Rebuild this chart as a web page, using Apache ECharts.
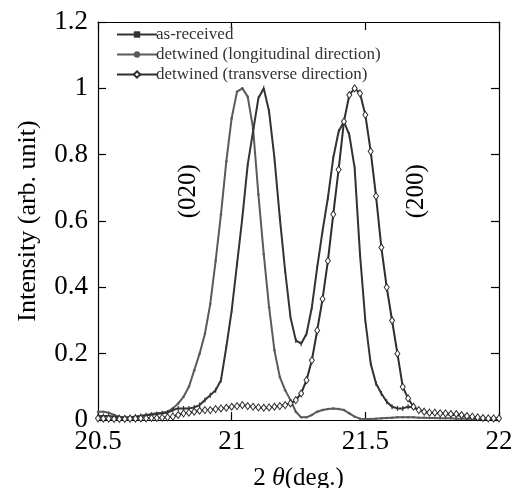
<!DOCTYPE html>
<html>
<head>
<meta charset="utf-8">
<script src="https://cdn.jsdelivr.net/npm/echarts@6/dist/echarts.min.js"></script>
<style>html,body{margin:0;padding:0;background:#fff}#c{width:512px;height:488px}</style>
</head>
<body>
<div id="c"></div>
<script>
var twoTheta = [20.50,20.52,20.54,20.56,20.58,20.60,20.62,20.64,20.66,20.68,20.70,20.72,20.74,20.76,20.78,20.80,20.82,20.84,20.86,20.88,20.90,20.92,20.94,20.96,20.98,21.00,21.02,21.04,21.06,21.08,21.10,21.12,21.14,21.16,21.18,21.20,21.22,21.24,21.26,21.28,21.30,21.32,21.34,21.36,21.38,21.40,21.42,21.44,21.46,21.48,21.50,21.52,21.54,21.56,21.58,21.60,21.62,21.64,21.66,21.68,21.70,21.72,21.74,21.76,21.78,21.80,21.82,21.84,21.86,21.88,21.90,21.92,21.94,21.96,21.98,22.00];
var asReceived = [0.012,0.012,0.012,0.010,0.008,0.007,0.008,0.010,0.012,0.014,0.016,0.018,0.020,0.022,0.030,0.035,0.035,0.035,0.038,0.045,0.060,0.075,0.090,0.120,0.220,0.330,0.470,0.610,0.770,0.870,0.970,1.000,0.930,0.790,0.610,0.450,0.310,0.240,0.230,0.260,0.340,0.460,0.570,0.670,0.790,0.870,0.900,0.860,0.760,0.500,0.300,0.170,0.110,0.080,0.055,0.040,0.035,0.035,0.040,0.038,0.030,0.025,0.022,0.020,0.020,0.018,0.015,0.015,0.012,0.010,0.008,0.006,0.005,0.005,0.004,0.003];
var longitudinal = [0.025,0.025,0.022,0.015,0.010,0.008,0.008,0.010,0.012,0.015,0.018,0.020,0.022,0.025,0.035,0.050,0.070,0.100,0.150,0.200,0.260,0.350,0.480,0.620,0.780,0.910,0.990,1.000,0.975,0.880,0.680,0.500,0.340,0.210,0.130,0.090,0.060,0.025,0.008,0.008,0.015,0.025,0.030,0.033,0.035,0.033,0.030,0.020,0.010,0.004,0.003,0.003,0.004,0.005,0.006,0.007,0.008,0.008,0.008,0.008,0.007,0.007,0.006,0.006,0.005,0.005,0.005,0.004,0.004,0.004,0.003,0.003,0.003,0.003,0.003,0.003];
var transverse = [0.005,0.004,0.004,0.003,0.003,0.003,0.004,0.004,0.005,0.005,0.006,0.006,0.007,0.008,0.010,0.015,0.020,0.022,0.025,0.028,0.030,0.030,0.033,0.035,0.037,0.040,0.042,0.045,0.042,0.040,0.038,0.037,0.038,0.040,0.042,0.045,0.050,0.060,0.080,0.120,0.180,0.270,0.365,0.480,0.620,0.755,0.900,0.980,1.000,0.985,0.920,0.810,0.675,0.520,0.400,0.300,0.200,0.100,0.065,0.040,0.030,0.025,0.022,0.022,0.020,0.020,0.018,0.018,0.015,0.012,0.010,0.008,0.006,0.005,0.005,0.005];
var xTicks = [20.5, 21, 21.5, 22];
var yTicks = [0, 0.2, 0.4, 0.6, 0.8, 1, 1.2];
var seriesNames = ['as-received', 'detwined (longitudinal direction)', 'detwined (transverse direction)'];
var peakLabels = [{text: '(020)', x: 20.84, y: 0.69}, {text: '(200)', x: 21.69, y: 0.69}];

function pairs(ys) { return twoTheta.map(function (x, i) { return [x, ys[i]]; }); }

var chart = echarts.init(document.getElementById('c'), null, {renderer: 'canvas'});
var font = 'Liberation Serif';
var axisCommon = {
  min: 20.5, max: 22, interval: 0.5,
  axisLine: {show: true, onZero: false, lineStyle: {color: '#000', width: 1.2}},
  axisTick: {show: true, inside: true, length: 8, lineStyle: {color: '#000', width: 1.2}},
  splitLine: {show: false}
};
var yCommon = {
  min: 0, max: 1.2, interval: 0.2,
  axisLine: {show: true, onZero: false, lineStyle: {color: '#000', width: 1.2}},
  axisTick: {show: true, inside: true, length: 8, lineStyle: {color: '#000', width: 1.2}},
  splitLine: {show: false}
};
var option = {
  animation: false,
  backgroundColor: '#fff',
  grid: {left: 98, right: 13, top: 22, bottom: 68, containLabel: false, outerBoundsMode: 'none'},
  legend: {
    orient: 'vertical', left: 111, top: 21, itemWidth: 40, itemHeight: 8, itemGap: 3,
    textStyle: {fontFamily: font, fontSize: 17, color: '#333', padding: [0, 0, 0, -6]},
    data: seriesNames
  },
  xAxis: [
    Object.assign({type: 'value', position: 'bottom',
      name: '{n|2 }{t|θ}{n|(deg.)}', nameLocation: 'middle', nameGap: 45,
      nameTextStyle: {rich: {n: {fontFamily: font, fontSize: 25, color: '#000'}, t: {fontFamily: font, fontSize: 26, fontStyle: 'italic', color: '#000'}}},
      axisLabel: {fontFamily: font, fontSize: 27, color: '#000', margin: 8}}, axisCommon),
    Object.assign({type: 'value', position: 'top', axisLabel: {show: false}}, axisCommon)
  ],
  yAxis: [
    Object.assign({type: 'value', position: 'left',
      name: 'Intensity (arb. unit)', nameLocation: 'middle', nameGap: 57,
      nameTextStyle: {fontFamily: font, fontSize: 26, color: '#000'},
      axisLabel: {fontFamily: font, fontSize: 27, color: '#000', margin: 10}}, yCommon),
    Object.assign({type: 'value', position: 'right', axisLabel: {show: false}}, yCommon)
  ],
  series: [
    {
      name: seriesNames[0], type: 'line', data: pairs(asReceived),
      lineStyle: {color: '#333', width: 2}, itemStyle: {color: '#333'},
      symbol: 'rect', symbolSize: [1.2, 5], showAllSymbol: true, z: 3
    },
    {
      name: seriesNames[1], type: 'line', data: pairs(longitudinal),
      lineStyle: {color: '#5a5a5a', width: 2}, itemStyle: {color: '#5a5a5a'},
      symbol: 'circle', symbolSize: 2.5, showAllSymbol: true, z: 2
    },
    {
      name: seriesNames[2], type: 'line', data: pairs(transverse),
      lineStyle: {color: '#2e2e2e', width: 2}, itemStyle: {color: '#fff', borderColor: '#2e2e2e', borderWidth: 1},
      symbol: 'diamond', symbolSize: [5, 7], showAllSymbol: true, z: 4,
      markPoint: {
        symbol: 'circle', symbolSize: 0,
        label: {show: true, fontFamily: font, fontSize: 25, color: '#000', rotate: 90, formatter: function (p) { return p.name; }},
        data: peakLabels.map(function (p) { return {name: p.text, coord: [p.x, p.y]}; })
      }
    }
  ]
};
chart.setOption(option);
</script>
</body>
</html>
